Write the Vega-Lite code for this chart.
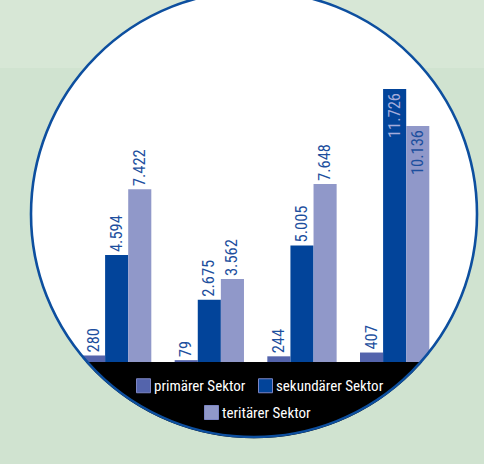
{
  "$schema": "https://vega.github.io/schema/vega-lite/v6.json",
  "width": 460,
  "height": 428,
  "autosize": {"type": "none"},
  "padding": {"left": 24, "top": 0, "right": 0, "bottom": 36},
  "background": "#d0e3d0",
  "config": {
    "view": {"stroke": null},
    "locale": {"number": {"decimal": ",", "thousands": ".", "grouping": [3], "currency": ["", " €"]}},
    "legend": {
      "orient": "none",
      "direction": "horizontal",
      "title": null,
      "symbolType": "square",
      "symbolSize": 196,
      "symbolStrokeWidth": 1,
      "symbolStrokeColor": "#7c85c3",
      "labelColor": "white",
      "labelFont": "Roboto Condensed, Noto Sans Condensed, Liberation Sans Narrow, DejaVu Sans Condensed, sans-serif",
      "labelFontSize": 15,
      "labelOffset": 3,
      "columnPadding": 10,
      "padding": 0
    }
  },
  "datasets": {
    "sektoren": [
      {"gruppe": "1", "sektor": "primärer Sektor", "wert": 280},
      {"gruppe": "1", "sektor": "sekundärer Sektor", "wert": 4594},
      {"gruppe": "1", "sektor": "teritärer Sektor", "wert": 7422},
      {"gruppe": "2", "sektor": "primärer Sektor", "wert": 79},
      {"gruppe": "2", "sektor": "sekundärer Sektor", "wert": 2675},
      {"gruppe": "2", "sektor": "teritärer Sektor", "wert": 3562},
      {"gruppe": "3", "sektor": "primärer Sektor", "wert": 244},
      {"gruppe": "3", "sektor": "sekundärer Sektor", "wert": 5005},
      {"gruppe": "3", "sektor": "teritärer Sektor", "wert": 7648},
      {"gruppe": "4", "sektor": "primärer Sektor", "wert": 407},
      {"gruppe": "4", "sektor": "sekundärer Sektor", "wert": 11726},
      {"gruppe": "4", "sektor": "teritärer Sektor", "wert": 10136}
    ]
  },
  "layer": [
    {
      "data": {"values": [{}]},
      "mark": {"type": "rect", "color": "#d7e7d6"},
      "encoding": {
        "x": {"datum": 0, "type": "quantitative", "scale": {"domain": [0, 1], "range": [-24, 460], "nice": false, "zero": false}, "axis": null},
        "x2": {"datum": 1},
        "y": {"datum": 12629, "type": "quantitative", "scale": {"domain": [0, 11726], "range": [362, 89], "nice": false, "zero": false}, "axis": null},
        "y2": {"datum": 16000}
      }
    },
    {
      "data": {"name": "sektoren"},
      "layer": [
        {
          "data": {"values": [{}]},
          "mark": {"type": "point", "shape": "circle", "size": 198916, "filled": true, "fill": "white", "strokeWidth": 0, "opacity": 1},
          "encoding": {}
        },
        {
          "transform": [{"filter": "datum.sektor !== 'teritärer Sektor'"}],
          "mark": {"type": "bar"},
          "encoding": {
            "x": {"field": "gruppe", "type": "nominal", "scale": {"domain": ["1", "2", "3", "4"], "range": [58, 405.3], "paddingInner": 0.252, "paddingOuter": 0}, "axis": null},
            "xOffset": {"field": "sektor", "type": "nominal", "scale": {"domain": ["primärer Sektor", "sekundärer Sektor", "teritärer Sektor"], "paddingInner": 0, "paddingOuter": 0}},
            "y": {"field": "wert", "type": "quantitative", "scale": {"domain": [0, 11726], "range": [362, 89], "nice": false, "zero": false}, "axis": null},
            "color": {
              "field": "sektor", "type": "nominal",
              "scale": {"domain": ["primärer Sektor", "sekundärer Sektor", "teritärer Sektor"], "range": ["#5464ac", "#02449a", "#9098c9"]},
              "legend": {"values": ["primärer Sektor", "sekundärer Sektor"], "legendX": 112, "legendY": 378}
            }
          }
        },
        {
          "transform": [{"filter": "datum.sektor === 'teritärer Sektor'"}],
          "mark": {"type": "bar"},
          "encoding": {
            "x": {"field": "gruppe", "type": "nominal", "scale": {"domain": ["1", "2", "3", "4"], "range": [58, 405.3], "paddingInner": 0.252, "paddingOuter": 0}, "axis": null},
            "xOffset": {"field": "sektor", "type": "nominal", "scale": {"domain": ["primärer Sektor", "sekundärer Sektor", "teritärer Sektor"], "paddingInner": 0, "paddingOuter": 0}},
            "y": {"field": "wert", "type": "quantitative", "scale": {"domain": [0, 11726], "range": [362, 89], "nice": false, "zero": false}, "axis": null},
            "color": {
              "field": "sektor", "type": "nominal",
              "scale": {"domain": ["primärer Sektor", "sekundärer Sektor", "teritärer Sektor"], "range": ["#5464ac", "#02449a", "#9098c9"]},
              "legend": {"values": ["teritärer Sektor"], "legendX": 180, "legendY": 405}
            }
          }
        },
        {
          "transform": [{"filter": "datum.wert < 9000"}],
          "mark": {"type": "text", "angle": 270, "align": "left", "baseline": "middle", "dx": 3, "font": "Roboto Condensed, Noto Sans Condensed, Liberation Sans Narrow, DejaVu Sans Condensed, sans-serif", "fontSize": 16.5, "fill": "#1d4f9e"},
          "encoding": {
            "x": {"field": "gruppe", "type": "nominal", "scale": {"domain": ["1", "2", "3", "4"], "range": [58, 405.3], "paddingInner": 0.252, "paddingOuter": 0}, "axis": null},
            "xOffset": {"field": "sektor", "type": "nominal", "scale": {"domain": ["primärer Sektor", "sekundärer Sektor", "teritärer Sektor"], "paddingInner": 0, "paddingOuter": 0}},
            "y": {"field": "wert", "type": "quantitative", "scale": {"domain": [0, 11726], "range": [362, 89], "nice": false, "zero": false}, "axis": null},
            "text": {"field": "wert", "type": "quantitative", "format": ",.0f"}
          }
        },
        {
          "transform": [{"filter": "datum.wert >= 9000"}],
          "mark": {"type": "text", "angle": 270, "align": "right", "baseline": "middle", "dx": -4, "font": "Roboto Condensed, Noto Sans Condensed, Liberation Sans Narrow, DejaVu Sans Condensed, sans-serif", "fontSize": 16.5},
          "encoding": {
            "x": {"field": "gruppe", "type": "nominal", "scale": {"domain": ["1", "2", "3", "4"], "range": [58, 405.3], "paddingInner": 0.252, "paddingOuter": 0}, "axis": null},
            "xOffset": {"field": "sektor", "type": "nominal", "scale": {"domain": ["primärer Sektor", "sekundärer Sektor", "teritärer Sektor"], "paddingInner": 0, "paddingOuter": 0}},
            "y": {"field": "wert", "type": "quantitative", "scale": {"domain": [0, 11726], "range": [362, 89], "nice": false, "zero": false}, "axis": null},
            "text": {"field": "wert", "type": "quantitative", "format": ",.0f"},
            "fill": {"condition": {"test": "datum.sektor === 'sekundärer Sektor'", "value": "#a4acdc"}, "value": "#1d4f9e"}
          }
        },
        {
          "data": {"values": [{}]},
          "mark": {"type": "rect", "color": "black"},
          "encoding": {
            "y": {"datum": -4000, "type": "quantitative", "scale": {"domain": [0, 11726], "range": [362, 89], "nice": false, "zero": false}},
            "y2": {"datum": 0}
          }
        },
        {
          "data": {"values": [{}]},
          "mark": {"type": "arc", "theta": 1.5708, "theta2": 4.7124, "radius": 430, "radius2": 224.2, "color": "#d0e3d0"},
          "encoding": {}
        },
        {
          "data": {"values": [{}]},
          "mark": {"type": "point", "shape": "circle", "size": 198916, "filled": false, "stroke": "#0d4f9f", "strokeWidth": 2.6, "opacity": 1},
          "encoding": {}
        }
      ],
      "resolve": {"scale": {"color": "independent"}, "legend": {"color": "independent"}}
    }
  ],
  "resolve": {"scale": {"x": "independent"}}
}
